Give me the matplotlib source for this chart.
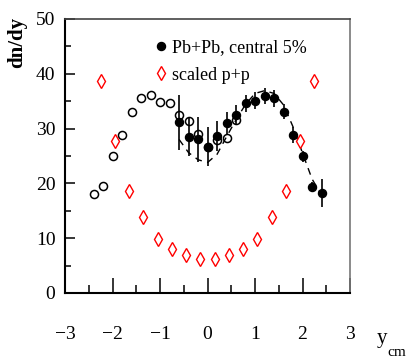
import matplotlib.pyplot as plt
from matplotlib.lines import Line2D

# Pb+Pb central 5% (filled)
x_pb = [-0.6, -0.4, -0.2, 0.0, 0.2, 0.4, 0.6, 0.8, 1.0, 1.2, 1.4, 1.6, 1.8, 2.0, 2.2, 2.4]
y_pb = [31.1, 28.5, 28.0, 26.7, 28.6, 31.0, 32.4, 34.6, 35.1, 35.9, 35.5, 33.1, 28.8, 24.9, 19.4, 18.2]
err_pb = [5.0, 3.5, 4.1, 3.5, 2.7, 2.0, 1.8, 1.6, 1.5, 1.5, 1.5, 1.4, 1.4, 1.0, 0.8, 2.6]

# reflected points (open)
x_open = [-2.4, -2.2, -2.0, -1.8, -1.6, -1.4, -1.2, -1.0, -0.8, -0.6, -0.4, -0.2, 0.0, 0.2, 0.4, 0.6]
y_open = [18.1, 19.5, 24.9, 28.8, 33.1, 35.5, 36.1, 34.9, 34.6, 32.5, 31.3, 29.0, 26.7, 27.9, 28.2, 31.5]

# dashed curve
x_curve = [-0.6, -0.4, -0.2, 0.0, 0.2, 0.4, 0.6, 0.8, 1.0, 1.2, 1.4, 1.6, 1.8, 2.0, 2.2, 2.4]
y_curve = [28.0, 25.6, 24.3, 23.8, 25.3, 28.5, 31.6, 34.4, 36.4, 36.9, 36.4, 34.3, 30.3, 25.5, 20.8, 17.8]

# scaled p+p
x_pp = [-2.25, -1.95, -1.65, -1.35, -1.05, -0.75, -0.45, -0.15,
        0.15, 0.45, 0.75, 1.05, 1.35, 1.65, 1.95, 2.25]
y_pp = [38.7, 27.7, 18.6, 13.9, 9.9, 8.0, 6.9, 6.2,
        6.2, 6.9, 8.0, 9.9, 13.9, 18.6, 27.7, 38.7]

x_ticks = [-3, -2, -1, 0, 1, 2, 3]
x_ticklabels = ['\u22123', '\u22122', '\u22121', '0', '1', '2', '3']
y_ticks = [0, 10, 20, 30, 40, 50]

plt.rcParams['font.family'] = ['Liberation Serif', 'DejaVu Serif']

fig = plt.figure(figsize=(4.07, 3.63), dpi=100)
ax = fig.add_axes([0.160, 0.193, 0.700, 0.755])

ax.plot(x_curve, y_curve, color='black', lw=1.0, dashes=(5, 4), zorder=2)
ax.plot(x_open, y_open, 'o', ms=5.8, mfc='none', mec='black', mew=1.1, zorder=3)
ax.errorbar(x_pb, y_pb, yerr=err_pb, fmt='o', ms=5.8, color='black',
            elinewidth=1.2, capsize=0, zorder=4)
ax.plot(x_pp, y_pp, 'd', ms=7, mfc='white', mec='red', mew=1.0, zorder=5)

ax.set_xlim(-3, 3)
ax.set_ylim(0, 50)
ax.set_xticks(x_ticks)
ax.set_xticklabels(x_ticklabels)
ax.set_xticks([-2.5, -1.5, -0.5, 0.5, 1.5, 2.5], minor=True)
ax.set_yticks(y_ticks)
ax.set_yticks([5, 15, 25, 35, 45], minor=True)

ax.tick_params(axis='x', which='major', direction='in', length=11, width=1.1, pad=24, labelsize=14)
ax.tick_params(axis='x', which='minor', direction='in', length=6, width=1.1)
ax.tick_params(axis='y', which='major', direction='in', length=7, width=1.1, pad=7, labelsize=14)
ax.tick_params(axis='y', which='minor', direction='in', length=4, width=1.1)

ax.spines['left'].set_linewidth(1.5)
ax.spines['bottom'].set_linewidth(1.5)
ax.spines['top'].set_linewidth(1.2)
ax.spines['top'].set_color('#444444')
ax.spines['right'].set_linewidth(1.2)
ax.spines['right'].set_color('#777777')

handles = [Line2D([], [], ls='none', marker='o', ms=5.8, color='black'),
           Line2D([], [], ls='none', marker='d', ms=7, mfc='white', mec='red', mew=1.0)]
ax.legend(handles, ['Pb+Pb, central 5%', 'scaled p+p'], loc='upper left',
          bbox_to_anchor=(0.285, 0.96), frameon=False, fontsize=13,
          handlelength=0.6, handletextpad=0.35, labelspacing=0.6, borderpad=0)

fig.text(17 / 407, 1 - 42 / 363, 'dn/dy', rotation=90, fontsize=15, fontweight='bold',
         ha='center', va='center')
fig.text(382 / 407, 1 - 338 / 363, 'y', fontsize=15, ha='center', va='center')
fig.text(397 / 407, 1 - 352 / 363, 'cm', fontsize=11, ha='center', va='center')

fig.savefig('out.png', dpi=100)
